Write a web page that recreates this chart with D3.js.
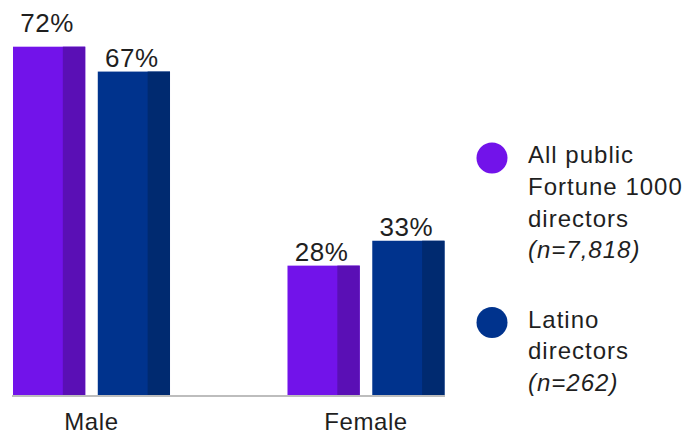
<!DOCTYPE html>
<html>
<head>
<meta charset="utf-8">
<script src="https://cdn.jsdelivr.net/npm/d3@7"></script>
<style>
  body { margin: 0; background: #fff; }
  text { font-family: "Liberation Sans", Arial, sans-serif; fill: #1f1f1f; }
</style>
</head>
<body>
<div id="chart-container"></div>
<script>
// Board seats by gender
const categories = ["Male", "Female"];
const seriesNames = ["All public Fortune 1000 directors", "Latino directors"];
const allDirectors = [72, 28];
const latinoDirectors = [67, 33];
const legendLines = [
  ["All public", "Fortune 1000", "directors", "(n=7,818)"],
  ["Latino", "directors", "(n=262)"]
];

function drawChart(element) {
  const width = 699;
  const height = 434;
  const baseline = 395;

  const colors = ["#7213ea", "#00338d"];
  const shades = ["#5a0fb5", "#002a70"];

  const svg = d3.select(element)
    .append("svg")
    .attr("width", width)
    .attr("height", height);

  const x0 = d3.scaleBand()
    .domain(categories)
    .range([13, 444.5])
    .paddingInner(0.428)
    .paddingOuter(0);

  const x1 = d3.scaleBand()
    .domain(seriesNames)
    .range([0, x0.bandwidth()])
    .paddingInner(0.148);

  // axis sits a little above zero, as in the original layout
  const y = d3.scaleLinear()
    .domain([2, 72])
    .range([baseline, 46.7]);

  const rows = categories.map((c, i) => ({
    category: c,
    values: [allDirectors[i], latinoDirectors[i]]
  }));

  const groups = svg.selectAll("g.group")
    .data(rows)
    .join("g")
    .attr("class", "group")
    .attr("transform", d => `translate(${x0(d.category)},0)`);

  const bars = groups.selectAll("g.bar")
    .data(d => d.values.map((v, j) => ({ name: seriesNames[j], value: v, j })))
    .join("g")
    .attr("class", "bar");

  bars.append("rect")
    .attr("x", d => x1(d.name))
    .attr("y", d => y(d.value))
    .attr("width", x1.bandwidth())
    .attr("height", d => y(2) - y(d.value))
    .attr("fill", d => colors[d.j]);

  // darker right-hand face
  bars.append("rect")
    .attr("x", d => x1(d.name) + x1.bandwidth() * 0.69)
    .attr("y", d => y(d.value))
    .attr("width", x1.bandwidth() * 0.31)
    .attr("height", d => y(2) - y(d.value))
    .attr("fill", d => shades[d.j]);

  bars.append("text")
    .attr("x", d => x1(d.name) + x1.bandwidth() / 2 - 2)
    .attr("y", d => y(d.value) - (d.value === d3.max(allDirectors.concat(latinoDirectors)) ? 14.5 : 4.5))
    .attr("text-anchor", "middle")
    .attr("font-size", 26)
    .attr("letter-spacing", 0.5)
    .text(d => d.value + "%");

  // baseline
  svg.append("line")
    .attr("x1", 12)
    .attr("x2", 445)
    .attr("y1", baseline + 1)
    .attr("y2", baseline + 1)
    .attr("stroke", "#bdbdbd")
    .attr("stroke-width", 2);

  svg.selectAll("text.cat")
    .data(categories)
    .join("text")
    .attr("class", "cat")
    .attr("x", d => x0(d) + x0.bandwidth() / 2)
    .attr("y", 430)
    .attr("text-anchor", "middle")
    .attr("font-size", 24)
    .attr("letter-spacing", 0.6)
    .text(d => d);

  // legend
  const legend = svg.selectAll("g.legend")
    .data(legendLines)
    .join("g")
    .attr("class", "legend")
    .attr("transform", (d, i) => `translate(492,${i === 0 ? 158 : 322.5})`);

  legend.append("circle")
    .attr("r", 15.5)
    .attr("fill", (d, i) => colors[i]);

  legend.each(function (lines) {
    const t = d3.select(this).append("text")
      .attr("font-size", 24)
      .attr("letter-spacing", 1);
    lines.forEach((line, k) => {
      t.append("tspan")
        .attr("x", 36)
        .attr("y", 5 + k * 31.8)
        .attr("font-style", line.startsWith("(") ? "italic" : null)
        .text(line);
    });
  });
}

drawChart(document.getElementById("chart-container"));
</script>
</body>
</html>
